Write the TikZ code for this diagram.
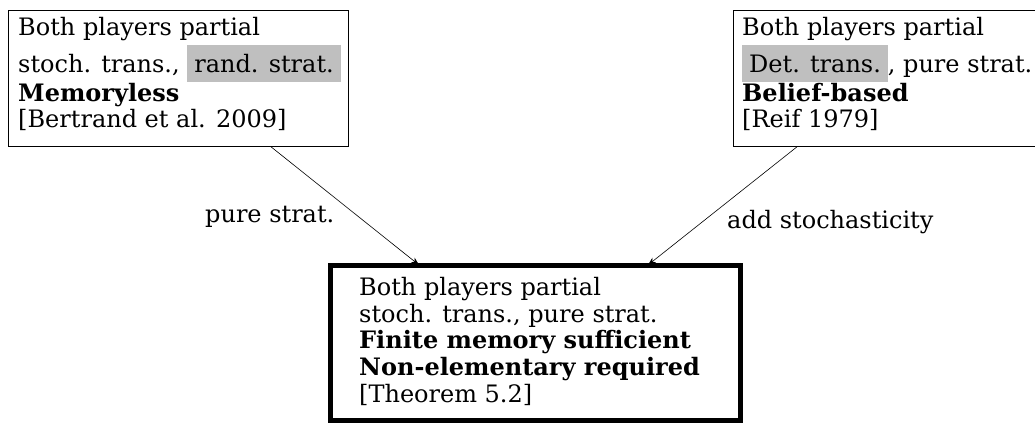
\documentclass[tikz,border=0pt]{standalone}
\usepackage{fontspec}
\setmainfont{DejaVu Serif}
\usetikzlibrary{arrows.meta}
\newcommand{\grbx}[1]{{\setlength{\fboxsep}{0pt}\colorbox{gray!50}{\hspace{7pt}\rule[-9pt]{0pt}{37pt}#1\hspace{7pt}}}}
\begin{document}
\begin{tikzpicture}[x=1pt,y=-1pt,
  every node/.style={font=\fontsize{24}{26.7}\selectfont},
  box/.style={draw, line width=0.8pt, inner sep=0pt, anchor=north west},
  thickbox/.style={box, line width=5pt},
  txt/.style={align=left, inner sep=0pt, anchor=north west},
  lbl/.style={inner sep=0pt, anchor=base west},
  arr/.style={line width=0.6pt, -{Stealth[length=8pt,width=6pt]}}]
\useasboundingbox (0,0) rectangle (1035,425);
\clip (0,0) rectangle (1035,425);
\node[box, minimum width=340pt, minimum height=136pt] (L) at (8,10) {};
\node[txt] (Lt) at (18,17) {Both players partial\\[3pt]
  stoch. trans., \grbx{rand. strat.}\\
  \textbf{Memoryless}\\
  {[}Bertrand et al. 2009{]}};
\node[box, minimum width=330pt, minimum height=136pt] (R) at (733,10) {};
\node[txt] (Rt) at (742,17) {Both players partial\\[3pt]
  \grbx{Det. trans.}, pure strat.\\
  \textbf{Belief-based}\\
  {[}Reif 1979{]}};
\node[thickbox, minimum width=410pt, minimum height=155pt] (B) at (327.5,262.5) {};
\node[txt] (Bt) at (359,277) {Both players partial\\
  stoch. trans., pure strat.\\
  \textbf{Finite memory sufficient}\\
  \textbf{Non-elementary required}\\
  {[}Theorem 5.2{]}};
\draw[arr] ([xshift=263pt]L.south west) -- ([xshift=91.5pt,yshift=-2.5pt]B.north west);
\draw[arr] ([xshift=64pt]R.south west) -- ([xshift=320.5pt,yshift=-2.5pt]B.north west);
\node[lbl] (pl) at (205,222) {pure strat.};
\node[lbl] (al) at (727,228) {add stochasticity};
\end{tikzpicture}
\end{document}
